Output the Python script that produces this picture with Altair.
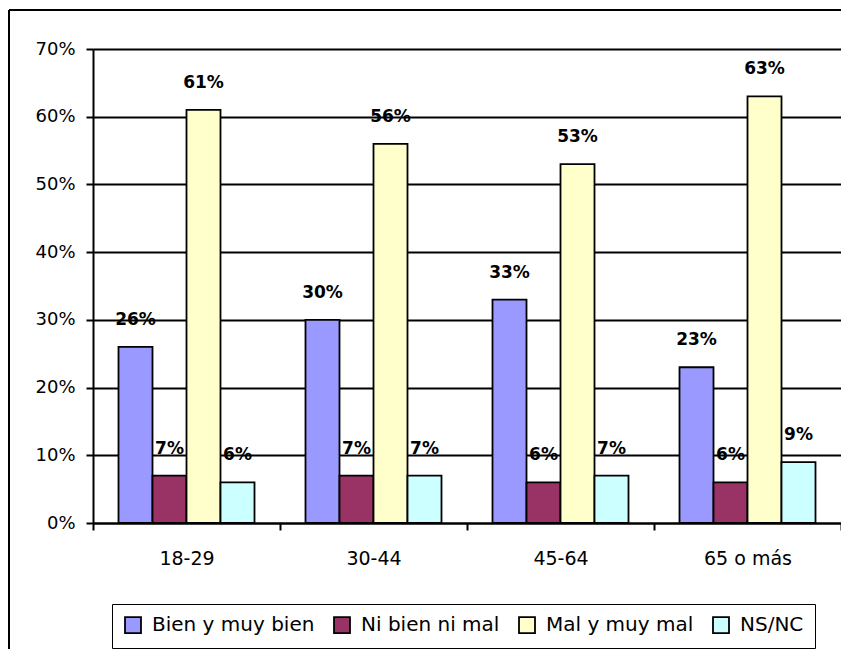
import altair as alt
import pandas as pd

groups = ["18-29", "30-44", "45-64", "65 o más"]
series = ["Bien y muy bien", "Ni bien ni mal", "Mal y muy mal", "NS/NC"]
bien = [26, 30, 33, 23]
ni = [7, 7, 6, 6]
mal = [61, 56, 53, 63]
nsnc = [6, 7, 7, 9]
colors = ["#9999FF", "#993366", "#FFFFCC", "#CCFFFF"]

rows = []
for s, vals in zip(series, [bien, ni, mal, nsnc]):
    for g, v in zip(groups, vals):
        rows.append({"grupo": g, "serie": s, "valor": v / 100})
df = pd.DataFrame(rows)

FONT = "DejaVu Sans"

x = alt.X("grupo:N", sort=groups, title=None,
          scale=alt.Scale(paddingInner=0, paddingOuter=0),
          axis=alt.Axis(labelAngle=0, tickBand="extent", tickSize=7, tickWidth=2,
                        tickColor="black", domainColor="black", domainWidth=2,
                        labelPadding=19, labelFontSize=19, labelColor="black",
                        labelFont=FONT, grid=False))
xo = alt.XOffset("serie:N", sort=series,
                 scale=alt.Scale(paddingInner=0, paddingOuter=0.75))
y = alt.Y("valor:Q", title=None,
          scale=alt.Scale(domain=[0, 0.7], nice=False),
          axis=alt.Axis(format=".0%", values=[0, 0.1, 0.2, 0.3, 0.4, 0.5, 0.6, 0.7],
                        tickSize=7, tickWidth=2, tickColor="black",
                        domainColor="black", domainWidth=2,
                        grid=True, gridColor="black", gridWidth=2,
                        labelPadding=11, labelFontSize=18, labelColor="black",
                        labelFont=FONT))

bars = alt.Chart(df).mark_bar(stroke="black", strokeWidth=1.8).encode(
    x=x, xOffset=xo, y=y,
    color=alt.Color("serie:N", sort=series, title=None,
                    scale=alt.Scale(domain=series, range=colors),
                    legend=alt.Legend(orient="none", legendX=19, legendY=555,
                                      direction="horizontal", columns=4,
                                      strokeColor="black", fillColor="white",
                                      padding=11, symbolType="square",
                                      symbolSize=256, symbolStrokeColor="black",
                                      symbolStrokeWidth=1.8, labelOffset=9,
                                      columnPadding=15, labelFontSize=20,
                                      labelFont=FONT, labelColor="black",
                                      labelLimit=400))
)

labels = alt.Chart(df).mark_text(dy=-27, baseline="middle", align="center",
                                 fontWeight="bold", fontSize=17, font=FONT,
                                 color="black").encode(
    x=alt.X("grupo:N", sort=groups), xOffset=alt.XOffset("serie:N", sort=series),
    y="valor:Q", text=alt.Text("valor:Q", format=".0%"))

one = pd.DataFrame({"a": [0]})
frame_top = alt.Chart(one).mark_rule(color="black", strokeWidth=2).encode(
    x=alt.value(-84), x2=alt.value(749), y=alt.value(-39))
frame_left = alt.Chart(one).mark_rule(color="black", strokeWidth=2).encode(
    x=alt.value(-84), y=alt.value(-39), y2=alt.value(610))

chart = alt.layer(bars, labels, frame_top, frame_left).properties(
    width=748, height=474,
    autosize=alt.AutoSizeParams(type="none"),
    padding={"left": 85, "top": 41, "right": 0, "bottom": 126},
).configure_view(stroke="black", strokeWidth=2).configure(background="white")

chart.save("out.html", embed_options={"renderer": "svg", "actions": False})
